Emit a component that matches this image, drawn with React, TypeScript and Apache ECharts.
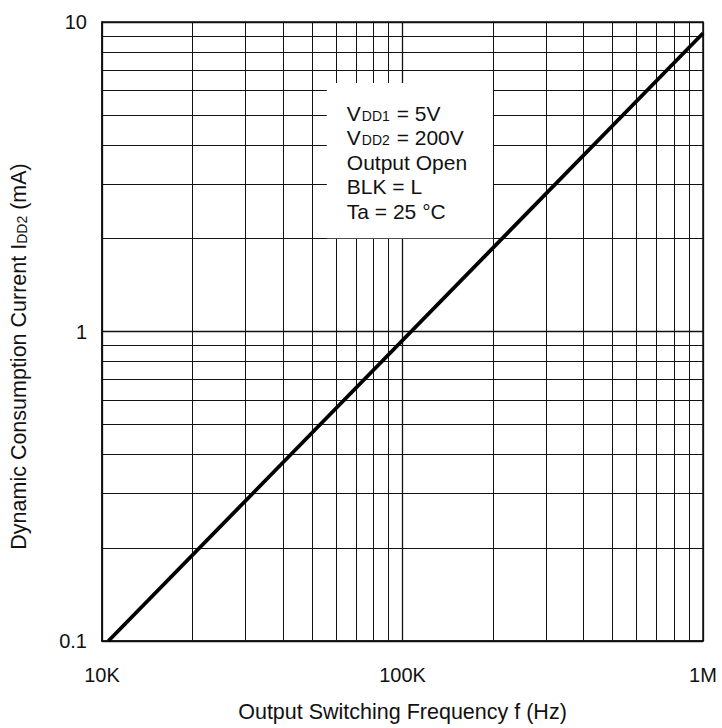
import React, { useEffect, useRef } from "react";
import * as echarts from "echarts";

const xMajor = [10000, 100000, 1000000];
const xMajorLabels = ["10K", "100K", "1M"];
const yMajor = [0.1, 1, 10];
const yMajorLabels = ["0.1", "1", "10"];
const minorMultipliers = [2, 3, 4, 5, 6, 7, 8, 9];
const xDecades = [10000, 100000];
const yDecades = [0.1, 1];

const lineFreq = [10500, 1000000];
const lineCurrent = [0.1, 9.2];

const boxFreq = [56000, 200000];
const boxCurrent = [2, 6.35];
const noteLines = [
  "{t|V}{s|DD1}{t| = 5V}",
  "{t|V}{s|DD2}{t| = 200V}",
  "{t|Output Open}",
  "{t|BLK = L}",
  "{t|Ta = 25 °C}",
];

const FONT = "'Liberation Sans', Arial, sans-serif";

export default function App() {
  const ref = useRef<HTMLDivElement>(null);
  useEffect(() => {
    if (!ref.current) return;
    const chart = echarts.init(ref.current, undefined, { renderer: "svg" });
    const xMinor: number[] = [];
    xDecades.forEach((d) => minorMultipliers.forEach((m) => xMinor.push(d * m)));
    const yMinor: number[] = [];
    yDecades.forEach((d) => minorMultipliers.forEach((m) => yMinor.push(+(d * m).toPrecision(3))));

    const gridLines: any[] = [];
    xMinor.forEach((v) => gridLines.push({ xAxis: v }));
    yMinor.forEach((v) => gridLines.push({ yAxis: v }));

    const labelFor = (v: number, vals: number[], labs: string[]) => {
      for (let i = 0; i < vals.length; i++) {
        if (Math.abs(Math.log10(v) - Math.log10(vals[i])) < 1e-6) return labs[i];
      }
      return "";
    };

    chart.setOption({
      animation: false,
      backgroundColor: "#ffffff",
      grid: {
        left: 98,
        top: 22,
        right: 19,
        bottom: 85,
        show: true,
        borderColor: "#111",
        borderWidth: 1.5,
        containLabel: false,
      },
      xAxis: {
        type: "log",
        logBase: 10,
        min: 10000,
        max: 1000000,
        name: "Output Switching Frequency f (Hz)",
        nameLocation: "middle",
        nameGap: 60,
        nameTextStyle: { fontFamily: FONT, fontSize: 21.5, color: "#111" },
        axisLine: { show: true, lineStyle: { color: "#111", width: 1.5 } },
        axisTick: { show: false },
        splitLine: { show: true, lineStyle: { color: "#111", width: 1.3 } },
        minorTick: { show: false },
        axisLabel: {
          margin: 24,
          fontFamily: FONT,
          fontSize: 20,
          color: "#111",
          formatter: (v: number) => labelFor(v, xMajor, xMajorLabels),
        },
      },
      yAxis: {
        type: "log",
        logBase: 10,
        min: 0.1,
        max: 10,
        name: "{a|Dynamic Consumption Current I}{s|DD2}{a| (mA)}",
        nameLocation: "middle",
        nameGap: 72,
        nameTextStyle: {
          padding: [0, 50, 0, 0],
          rich: {
            a: { fontFamily: FONT, fontSize: 21.5, color: "#111" },
            s: { fontFamily: FONT, fontSize: 14, color: "#111", padding: [5, 0, 0, 0] },
          },
        },
        axisLine: { show: true, lineStyle: { color: "#111", width: 1.5 } },
        axisTick: { show: false },
        splitLine: { show: true, lineStyle: { color: "#111", width: 1.3 } },
        axisLabel: {
          margin: 15,
          fontFamily: FONT,
          fontSize: 20,
          color: "#111",
          formatter: (v: number) => labelFor(v, yMajor, yMajorLabels),
        },
      },
      series: [
        {
          type: "line",
          data: [],
          z: 1,
          silent: true,
          markLine: {
            silent: true,
            z: 1,
            symbol: "none",
            label: { show: false },
            lineStyle: { color: "#111", width: 1, type: "solid" },
            data: gridLines,
          },
        },
        {
          type: "line",
          data: [],
          z: 4,
          silent: true,
          markArea: {
            silent: true,
            z: 4,
            itemStyle: { color: "#ffffff", opacity: 1 },
            label: {
              show: true,
              position: "insideTopLeft",
              distance: 0,
              padding: [18, 0, 0, 20],
              formatter: noteLines.join("\n"),
              lineHeight: 24.5,
              rich: {
                t: { fontFamily: FONT, fontSize: 21, color: "#111", lineHeight: 24.5 },
                s: { fontFamily: FONT, fontSize: 14, color: "#111", lineHeight: 24.5, padding: [5, 1, 0, 1] },
              },
            },
            data: [
              [
                { coord: [boxFreq[0], boxCurrent[1]] },
                { coord: [boxFreq[1], boxCurrent[0]] },
              ],
            ],
          },
        },
        {
          type: "line",
          z: 5,
          showSymbol: false,
          clip: true,
          lineStyle: { color: "#000", width: 3.8 },
          data: lineFreq.map((f, i) => [f, lineCurrent[i]]),
        },
      ],
    });
    return () => chart.dispose();
  }, []);
  return (
    <div
      ref={ref}
      style={{ position: "fixed", left: 0, top: 0, width: 722, height: 728, background: "#fff" }}
    />
  );
}
